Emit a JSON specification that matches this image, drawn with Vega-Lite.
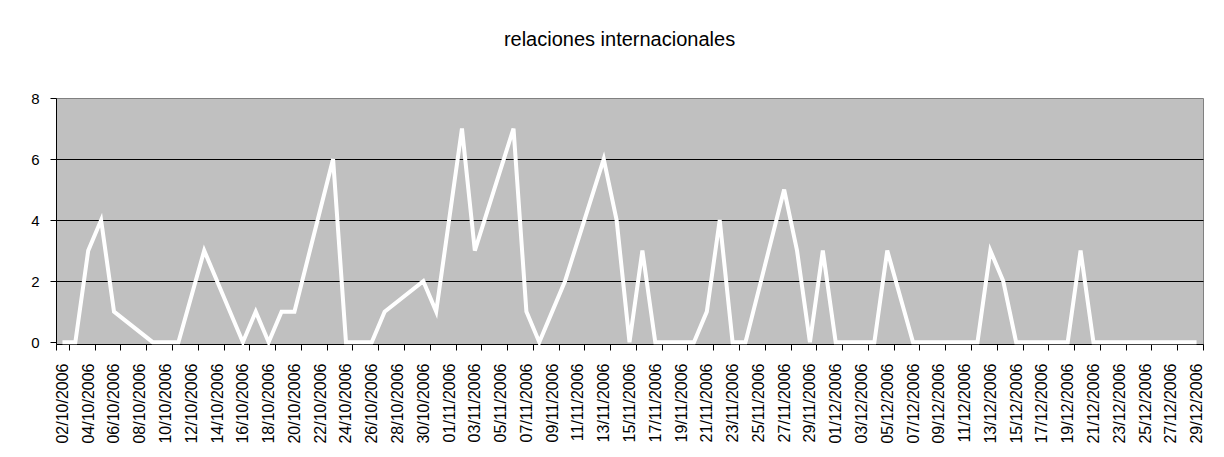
{
  "$schema": "https://vega.github.io/schema/vega-lite/v6.json",
  "autosize": "none",
  "width": 1147,
  "height": 246,
  "padding": {"left": 56, "top": 98, "right": 21, "bottom": 113},
  "background": "white",
  "title": {
    "text": "relaciones internacionales",
    "frame": "group",
    "anchor": "middle",
    "dx": -10,
    "offset": 21,
    "baseline": "bottom",
    "font": "Liberation Sans",
    "fontSize": 20,
    "fontWeight": "normal",
    "color": "black"
  },
  "config": {
    "view": {"fill": "#C0C0C0", "stroke": "#808080", "strokeWidth": 1},
    "axis": {"labelFont": "Liberation Sans", "labelColor": "black", "domainColor": "black", "tickColor": "black", "title": null, "zindex": 0}
  },
  "data": {
    "values": [
      {"date": "02/10/2006", "n": 0}, {"date": "03/10/2006", "n": 0}, {"date": "04/10/2006", "n": 3}, {"date": "05/10/2006", "n": 4}, {"date": "06/10/2006", "n": 1},
      {"date": "09/10/2006", "n": 0}, {"date": "10/10/2006", "n": 0}, {"date": "11/10/2006", "n": 0}, {"date": "13/10/2006", "n": 3},
      {"date": "16/10/2006", "n": 0}, {"date": "17/10/2006", "n": 1}, {"date": "18/10/2006", "n": 0}, {"date": "19/10/2006", "n": 1}, {"date": "20/10/2006", "n": 1},
      {"date": "23/10/2006", "n": 6}, {"date": "24/10/2006", "n": 0}, {"date": "25/10/2006", "n": 0}, {"date": "26/10/2006", "n": 0}, {"date": "27/10/2006", "n": 1},
      {"date": "30/10/2006", "n": 2}, {"date": "31/10/2006", "n": 1}, {"date": "02/11/2006", "n": 7}, {"date": "03/11/2006", "n": 3},
      {"date": "06/11/2006", "n": 7}, {"date": "07/11/2006", "n": 1}, {"date": "08/11/2006", "n": 0}, {"date": "09/11/2006", "n": 1}, {"date": "10/11/2006", "n": 2},
      {"date": "13/11/2006", "n": 6}, {"date": "14/11/2006", "n": 4}, {"date": "15/11/2006", "n": 0}, {"date": "16/11/2006", "n": 3}, {"date": "17/11/2006", "n": 0},
      {"date": "20/11/2006", "n": 0}, {"date": "21/11/2006", "n": 1}, {"date": "22/11/2006", "n": 4}, {"date": "23/11/2006", "n": 0}, {"date": "24/11/2006", "n": 0},
      {"date": "27/11/2006", "n": 5}, {"date": "28/11/2006", "n": 3}, {"date": "29/11/2006", "n": 0}, {"date": "30/11/2006", "n": 3}, {"date": "01/12/2006", "n": 0},
      {"date": "04/12/2006", "n": 0}, {"date": "05/12/2006", "n": 3}, {"date": "07/12/2006", "n": 0},
      {"date": "11/12/2006", "n": 0}, {"date": "12/12/2006", "n": 0}, {"date": "13/12/2006", "n": 3}, {"date": "14/12/2006", "n": 2}, {"date": "15/12/2006", "n": 0},
      {"date": "18/12/2006", "n": 0}, {"date": "19/12/2006", "n": 0}, {"date": "20/12/2006", "n": 3}, {"date": "21/12/2006", "n": 0}, {"date": "22/12/2006", "n": 0},
      {"date": "26/12/2006", "n": 0}, {"date": "27/12/2006", "n": 0}, {"date": "28/12/2006", "n": 0}, {"date": "29/12/2006", "n": 0}
    ]
  },
  "mark": {"type": "line", "color": "white", "strokeWidth": 4, "strokeJoin": "miter", "clip": false},
  "encoding": {
    "x": {
      "field": "date",
      "type": "ordinal",
      "sort": null,
      "scale": {
        "type": "band",
        "paddingInner": 0,
        "paddingOuter": 0,
        "domain": [
          "02/10/2006","03/10/2006","04/10/2006","05/10/2006","06/10/2006","07/10/2006","08/10/2006","09/10/2006","10/10/2006","11/10/2006",
          "12/10/2006","13/10/2006","14/10/2006","15/10/2006","16/10/2006","17/10/2006","18/10/2006","19/10/2006","20/10/2006","21/10/2006",
          "22/10/2006","23/10/2006","24/10/2006","25/10/2006","26/10/2006","27/10/2006","28/10/2006","29/10/2006","30/10/2006","31/10/2006",
          "01/11/2006","02/11/2006","03/11/2006","04/11/2006","05/11/2006","06/11/2006","07/11/2006","08/11/2006","09/11/2006","10/11/2006",
          "11/11/2006","12/11/2006","13/11/2006","14/11/2006","15/11/2006","16/11/2006","17/11/2006","18/11/2006","19/11/2006","20/11/2006",
          "21/11/2006","22/11/2006","23/11/2006","24/11/2006","25/11/2006","26/11/2006","27/11/2006","28/11/2006","29/11/2006","30/11/2006",
          "01/12/2006","02/12/2006","03/12/2006","04/12/2006","05/12/2006","06/12/2006","07/12/2006","08/12/2006","09/12/2006","10/12/2006",
          "11/12/2006","12/12/2006","13/12/2006","14/12/2006","15/12/2006","16/12/2006","17/12/2006","18/12/2006","19/12/2006","20/12/2006",
          "21/12/2006","22/12/2006","23/12/2006","24/12/2006","25/12/2006","26/12/2006","27/12/2006","28/12/2006","29/12/2006"
        ]
      },
      "axis": {
        "values": [
          "02/10/2006","04/10/2006","06/10/2006","08/10/2006","10/10/2006","12/10/2006","14/10/2006","16/10/2006","18/10/2006","20/10/2006",
          "22/10/2006","24/10/2006","26/10/2006","28/10/2006","30/10/2006","01/11/2006","03/11/2006","05/11/2006","07/11/2006","09/11/2006",
          "11/11/2006","13/11/2006","15/11/2006","17/11/2006","19/11/2006","21/11/2006","23/11/2006","25/11/2006","27/11/2006","29/11/2006",
          "01/12/2006","03/12/2006","05/12/2006","07/12/2006","09/12/2006","11/12/2006","13/12/2006","15/12/2006","17/12/2006","19/12/2006",
          "21/12/2006","23/12/2006","25/12/2006","27/12/2006","29/12/2006"
        ],
        "tickBand": "extent",
        "labelAngle": 270,
        "labelAlign": "right",
        "labelBaseline": "middle",
        "labelFontSize": 16,
        "labelPadding": 13,
        "tickSize": 6,
        "labelOverlap": false,
        "grid": false
      }
    },
    "y": {
      "field": "n",
      "type": "quantitative",
      "scale": {"domain": [-0.06, 8], "nice": false, "zero": false},
      "axis": {
        "values": [0, 2, 4, 6, 8],
        "grid": true,
        "gridColor": {"condition": {"test": "datum.value === 0 || datum.value === 8", "value": "transparent"}, "value": "black"},
        "gridWidth": 1,
        "gridOpacity": 1,
        "labelFontSize": 15,
        "labelPadding": 11,
        "tickSize": 6
      }
    }
  }
}
